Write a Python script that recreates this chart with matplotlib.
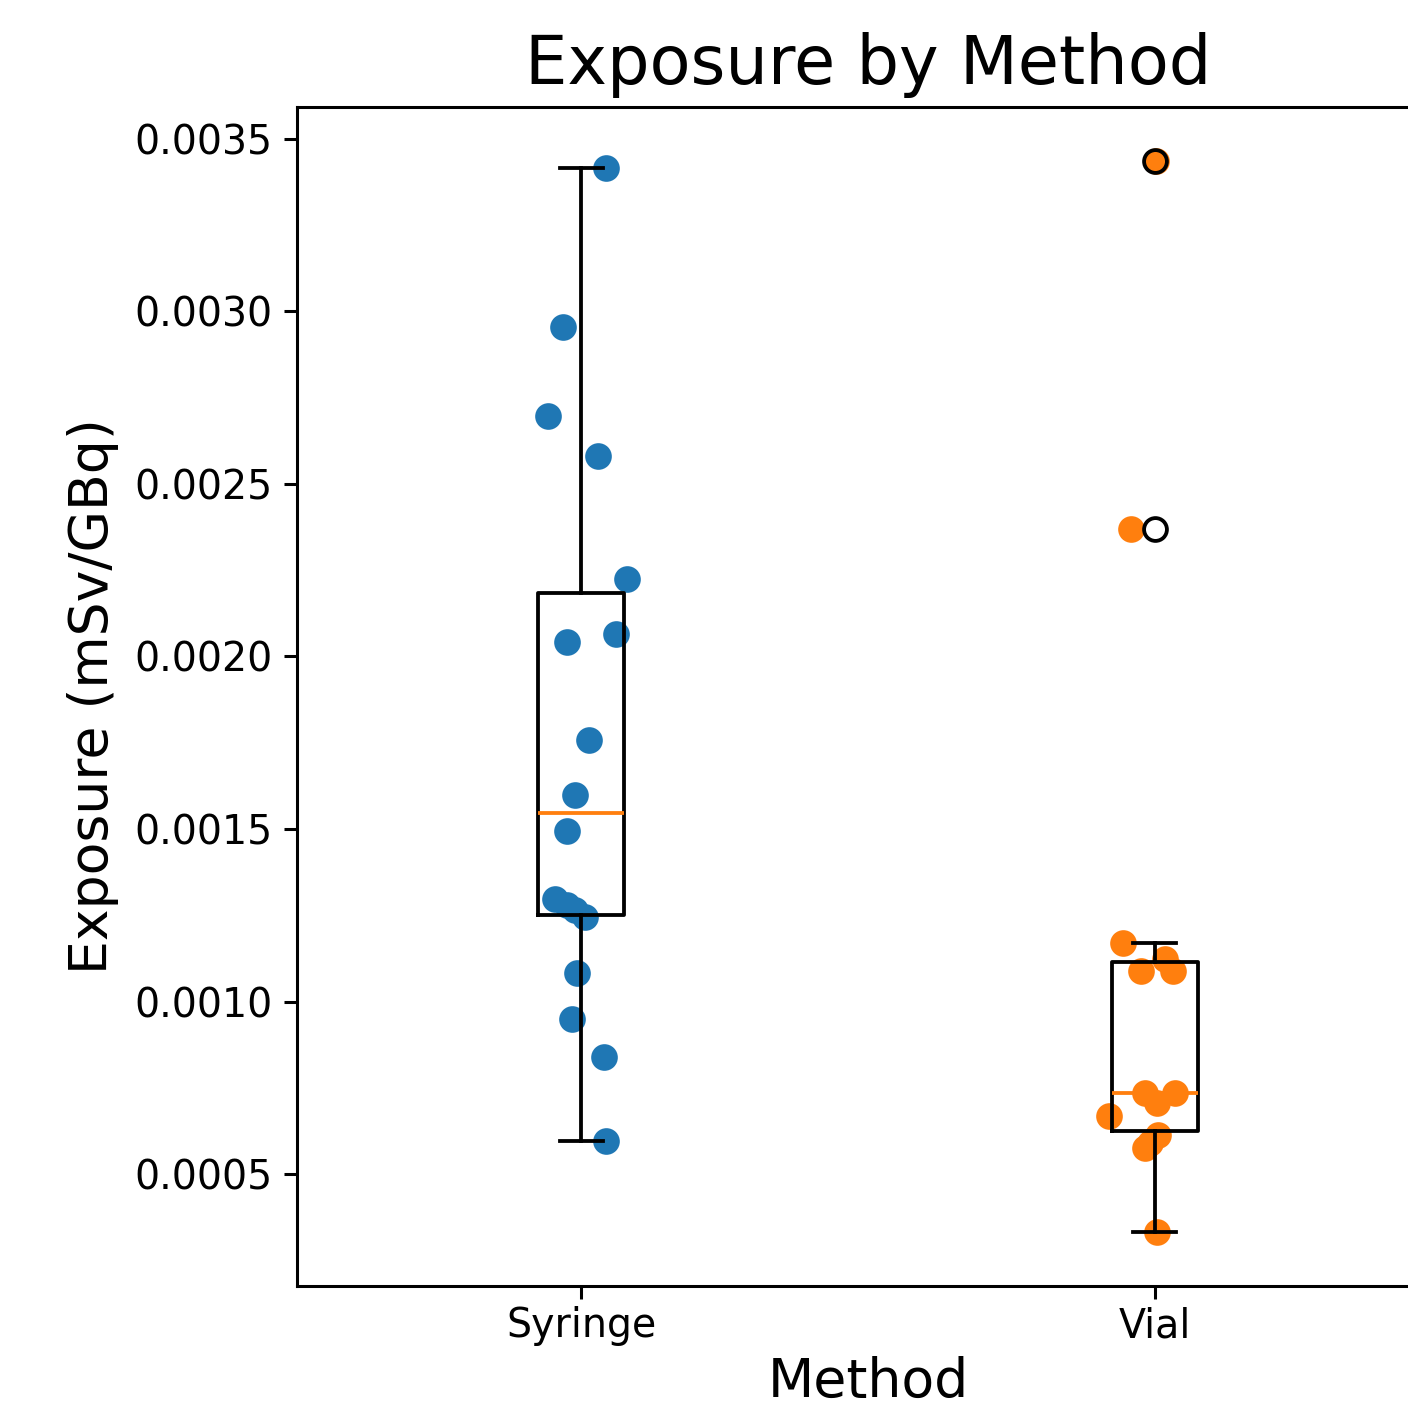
import matplotlib
matplotlib.use("Agg")
import matplotlib.pyplot as plt

methods = ["Syringe", "Vial"]

# exposure values (mSv/GBq)
syringe = [0.003416, 0.002953, 0.002695, 0.002582, 0.002223, 0.002041, 0.002064,
           0.001757, 0.001600, 0.001496, 0.001299, 0.001280, 0.001265, 0.001245,
           0.001082, 0.000949, 0.000839, 0.000598]
vial = [0.001169, 0.001088, 0.001123, 0.001088, 0.000737, 0.000737, 0.000706,
        0.000668, 0.000613, 0.000578, 0.000590, 0.000332, 0.002370, 0.003436]

# horizontal jitter of each point around its box
syringe_jitter = [0.044, -0.031, -0.057, 0.030, 0.080, -0.024, 0.061,
                  0.014, -0.010, -0.024, -0.045, -0.024, -0.010, 0.007,
                  -0.007, -0.016, 0.040, 0.044]
vial_jitter = [-0.056, -0.024, 0.017, 0.031, -0.017, 0.035, 0.003,
               -0.080, 0.005, -0.017, -0.009, 0.003, -0.042, 0.002]

dpi = 274
fig = plt.figure(figsize=(1408 / dpi, 1410 / dpi), dpi=dpi)
ax = fig.add_axes([297 / 1408, 0.0879, 1142 / 1408, 0.8362])

ax.boxplot([syringe, vial], widths=0.15)

for i, (vals, jit) in enumerate([(syringe, syringe_jitter), (vial, vial_jitter)]):
    xs = [i + 1 + j for j in jit]
    ax.scatter(xs, vals, color=f"C{i}", zorder=1)

ax.set_xlim(0.505, 2.495)
ax.set_xticks([1, 2])
ax.set_xticklabels(methods)
ax.tick_params(labelsize=10.4, pad=3)
ax.tick_params(axis="x", pad=1.8)
ax.set_title("Exposure by Method", fontsize=17.6)
ax.set_xlabel("Method", fontsize=14.1, labelpad=2.5)
ax.set_ylabel("Exposure (mSv/GBq)", fontsize=14.1)

fig.savefig("out.png", dpi=dpi)
